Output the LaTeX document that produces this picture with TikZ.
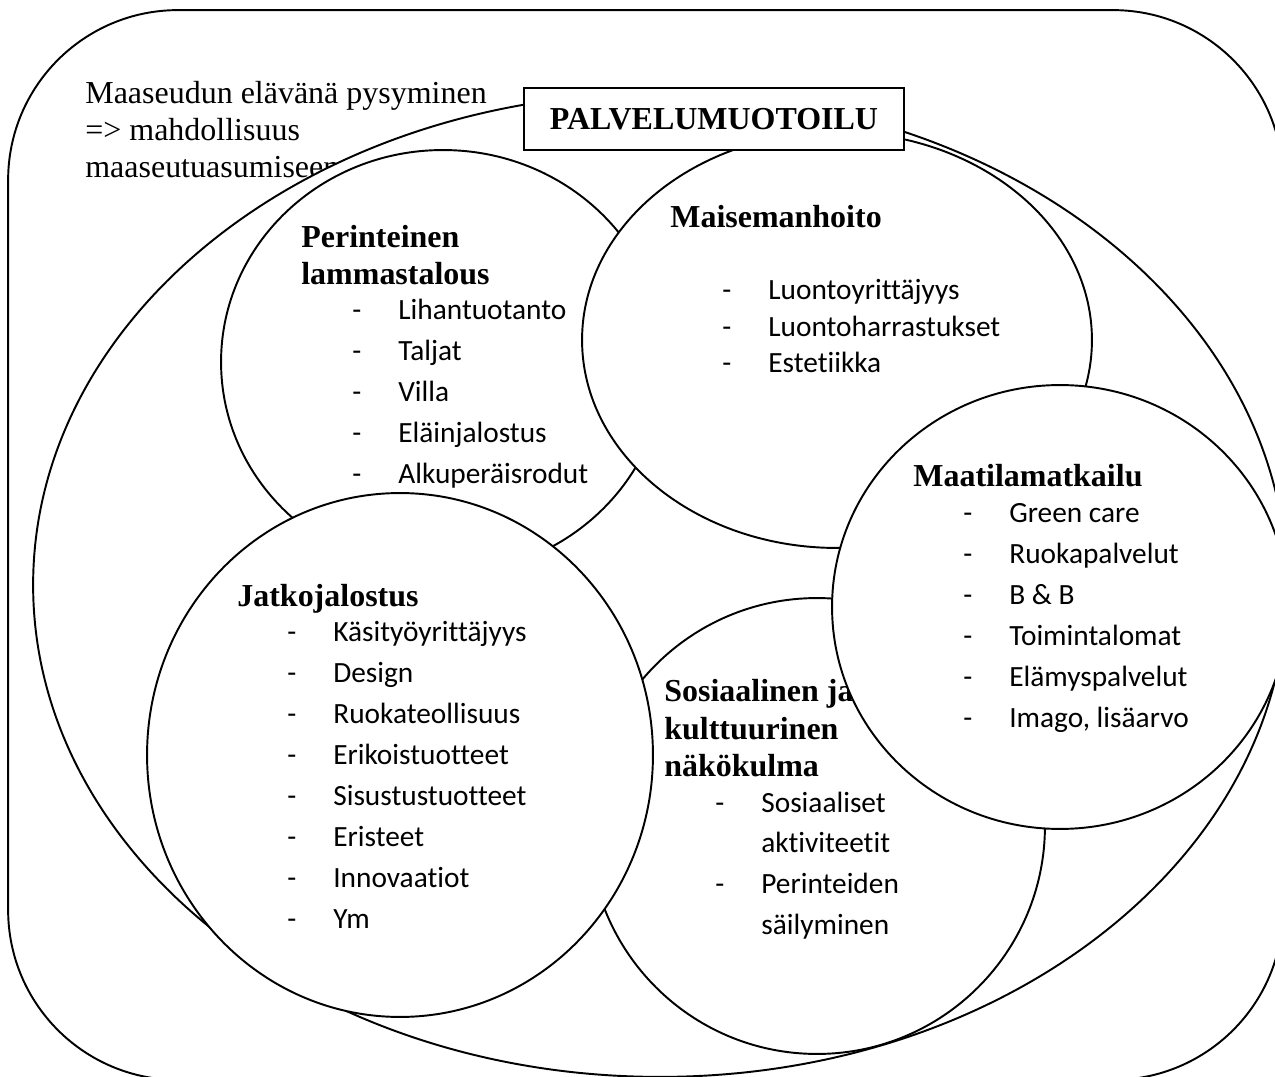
\documentclass[tikz,border=0pt]{standalone}
\usepackage{fontspec}
\setmainfont{Liberation Serif}
\newfontfamily\calibri[Ligatures={NoCommon}]{Carlito}
\usepackage{tikz}
\usetikzlibrary{shapes.geometric}

\newcommand{\lista}[1]{\begin{tabular}[t]{@{}p{0.92cm}@{}l@{}}#1\end{tabular}}
\newcommand{\rivit}[1]{\begin{tabular}[t]{@{}l@{}}#1\end{tabular}}

\tikzset{
  alue/.style={shape=ellipse, draw=black, fill=white, line width=1.1pt, inner sep=0pt},
  otsikko/.style={anchor=base west, inner sep=0pt, font=\bfseries\fontsize{18.2}{21}\selectfont},
  kohdat/.style={anchor=base west, inner sep=0pt, font=\calibri\fontsize{16.7}{23.3}\selectfont}
}

\begin{document}
\begin{tikzpicture}[x=0.02cm, y=-0.02cm]
     \useasboundingbox (0,0) rectangle (1275,1077);
     \clip (0,0) rectangle (1275,1077);

     \node[draw=black, line width=1.1pt, rounded corners=3.4cm, minimum width=25.5cm, minimum height=21.4cm] (kehys) at (645.5,545) {};
     \node[anchor=base west, inner sep=0pt, font=\fontsize{18.2}{20.8}\selectfont] (tausta) at (85,104) {\rivit{Maaseudun elävänä pysyminen\\=> mahdollisuus\\maaseutuasumiseen}};

     \node[alue, minimum width=25.08cm, minimum height=19.68cm] (maaseutu) at (660,585) {};

     \node[alue, minimum width=8.88cm, minimum height=8.48cm] (perinne) at (443,362) {};
     \node[otsikko] (perinneots) at (301,248) {\rivit{Perinteinen\\lammastalous}};
     \node[kohdat] (perinnelista) at (352,320) {\lista{- & Lihantuotanto\\ - & Taljat\\ - & Villa\\ - & Eläinjalostus\\ - & Alkuperäisrodut}};

     \node[alue, minimum width=10.2cm, minimum height=8.32cm] (maisema) at (837,340) {};
     \node[otsikko] (maisemaots) at (670,228) {Maisemanhoito};
     \node[kohdat, font=\calibri\fontsize{16.7}{20.5}\selectfont] (maisemalista) at (722,300) {\lista{- & Luontoyrittäjyys\\ - & Luontoharrastukset\\ - & Estetiikka}};

     \node[alue, minimum width=9.12cm, minimum height=9.12cm] (sosiaali) at (817,826) {};
     \node[otsikko, font=\bfseries\fontsize{18.2}{21.3}\selectfont] (sosiaaliots) at (664,702) {\rivit{Sosiaalinen ja\\kulttuurinen\\näkökulma}};
     \node[kohdat] (sosiaalilista) at (715,812) {\lista{- & Sosiaaliset\\ & aktiviteetit\\ - & Perinteiden\\ & säilyminen}};

     \node[alue, minimum width=10.12cm, minimum height=10.48cm] (jatko) at (400,755) {};
     \node[otsikko] (jatkoots) at (237,607) {Jatkojalostus};
     \node[kohdat] (jatkolista) at (287,642) {\lista{- & Käsityöyrittäjyys\\ - & Design\\ - & Ruokateollisuus\\ - & Erikoistuotteet\\ - & Sisustustuotteet\\ - & Eristeet\\ - & Innovaatiot\\ - & Ym}};

     \node[alue, minimum width=9.12cm, minimum height=8.88cm] (matkailu) at (1060,607) {};
     \node[otsikko] (matkailuots) at (913,487) {Maatilamatkailu};
     \node[kohdat] (matkailulista) at (963,523) {\lista{- & Green care\\ - & Ruokapalvelut\\ - & B \& B\\ - & Toimintalomat\\ - & Elämyspalvelut\\ - & Imago, lisäarvo}};

     \node[draw=black, fill=white, line width=1.1pt, minimum width=7.6cm, minimum height=1.24cm, font=\bfseries\fontsize{18.2}{21}\selectfont] (palvelu) at (714,119) {PALVELUMUOTOILU};
\end{tikzpicture}
\end{document}
